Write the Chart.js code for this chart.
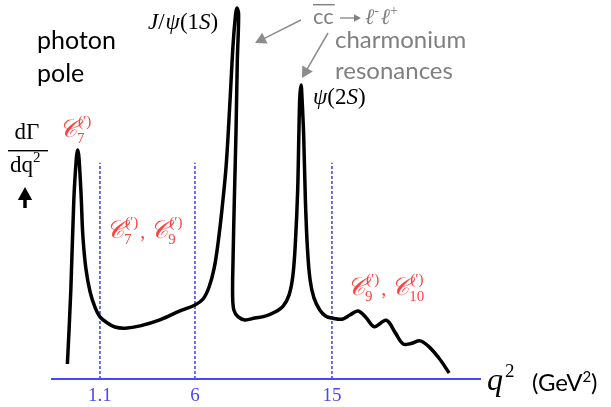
<!DOCTYPE html>
<html>
<head>
<meta charset="utf-8">
<script src="https://cdn.jsdelivr.net/npm/chart.js@4.4.1/dist/chart.umd.min.js"></script>
<style>
  html, body { margin: 0; padding: 0; background: #fff; }
  #wrap { width: 611px; height: 407px; }
</style>
</head>
<body>
<div id="wrap"><canvas id="spectrumChart" width="611" height="407"></canvas></div>
<script>
// schematic units: x runs 0..100 along the q^2 axis, y 0..100 for dGamma/dq^2
const curveX = [3.6, 4.4, 5.1, 5.7, 6.0, 6.3, 6.8, 7.2, 7.9, 8.9, 10.1, 11.2, 12.9, 14.7, 17.1, 20.6,
  25.2, 29.9, 33.4, 35.3, 36.7, 37.9, 38.8, 39.7, 40.7, 41.6, 42.3, 42.9, 43.2, 43.6, 43.3, 43.0,
  42.6, 42.3, 42.2, 42.5, 43.5, 45.1, 47.4, 49.8, 52.1, 54.0, 55.4, 56.3, 56.9, 57.4, 57.7, 57.9,
  58.2, 58.4, 58.8, 59.2, 59.7, 60.3, 61.2, 62.6, 64.0, 65.4, 67.8, 69.6, 71.5, 73.4, 75.3,
  78.1, 80.2, 82.0, 83.9, 86.0, 88.1, 90.4, 92.8];
const curveY = [4.0, 23.8, 47.9, 59.1, 61.2, 59.1, 49.2, 38.5, 29.7, 23.3, 19.0, 16.6, 15.0, 13.9, 13.6, 14.2,
  15.8, 18.2, 19.8, 21.4, 24.6, 29.7, 36.4, 45.2, 57.2, 74.6, 89.3, 97.6, 99.2, 97.6, 85.3, 66.6,
  47.9, 31.8, 22.5, 18.4, 16.6, 15.8, 16.3, 16.8, 17.9, 19.5, 22.5, 27.8, 37.2, 50.5, 66.6, 75.4,
  78.6, 75.4, 65.2, 47.9, 34.5, 26.5, 21.7, 18.4, 16.8, 16.3, 16.0, 17.1, 18.2, 16.4, 14.0,
  15.7, 12.4, 9.4, 9.5, 10.2, 8.6, 5.6, 1.6];

// q^2 bin boundaries (GeV^2) and where they sit on the schematic axis
const cutLabels = ['1.1', '6', '15'];
const cutX = [11.2, 33.4, 65.4];
const cutTop = 57.8;

const BLUE = 'rgb(72, 72, 245)';
const RED = 'rgb(255, 64, 64)';
const GRAY = 'rgb(128, 128, 128)';
const SERIF = '"Liberation Serif", "DejaVu Serif", serif';
const SANS = 'Lato, "Open Sans", sans-serif';

const datasets = [{
  data: curveX.map((x, i) => ({ x: x, y: curveY[i] })),
  borderColor: '#000',
  borderWidth: 3.5,
  pointRadius: 0,
  tension: 0.35,
  fill: false,
  clip: false,
}];
cutX.forEach((c) => {
  datasets.push({
    data: [{ x: c, y: 0 }, { x: c, y: cutTop }],
    borderColor: BLUE,
    borderWidth: 1.6,
    borderDash: [3, 2],
    pointRadius: 0,
    fill: false,
  });
});

// draw runs of text with font / vertical shift, returns end x
function runs(ctx, x, y, parts, color) {
  ctx.fillStyle = color;
  ctx.textBaseline = 'alphabetic';
  ctx.textAlign = 'left';
  parts.forEach((p) => {
    ctx.font = p[1];
    ctx.fillText(p[0], x, y + (p[2] || 0));
    x += ctx.measureText(p[0]).width + (p[3] || 0);
  });
  return x;
}

// C_sub^(') list, e.g. C7, C9
function coeffs(ctx, x, y, subs) {
  ctx.textAlign = 'left';
  ctx.textBaseline = 'alphabetic';
  subs.forEach((s, i) => {
    ctx.fillStyle = RED;
    ctx.font = 'italic 25px ' + SERIF;
    ctx.fillText('𝒞', x, y);
    x += ctx.measureText('𝒞').width;
    ctx.font = '15px ' + SERIF;
    ctx.fillText(s, x, y + 6);
    const subW = ctx.measureText(s).width;
    ctx.fillText('(′)', x + 1, y - 11);
    const supW = ctx.measureText('(′)').width + 1;
    x += Math.max(subW, supW);
    if (i < subs.length - 1) {
      ctx.font = '20px ' + SERIF;
      ctx.fillText(',', x + 2, y);
      x += 12;
    }
  });
}

function arrow(ctx, x1, y1, x2, y2, color, width, head) {
  const a = Math.atan2(y2 - y1, x2 - x1);
  ctx.strokeStyle = color;
  ctx.fillStyle = color;
  ctx.lineWidth = width;
  ctx.beginPath();
  ctx.moveTo(x1, y1);
  ctx.lineTo(x2 - Math.cos(a) * head * 0.8, y2 - Math.sin(a) * head * 0.8);
  ctx.stroke();
  ctx.beginPath();
  ctx.moveTo(x2, y2);
  ctx.lineTo(x2 - head * Math.cos(a) + head * 0.55 * Math.sin(a), y2 - head * Math.sin(a) - head * 0.55 * Math.cos(a));
  ctx.lineTo(x2 - head * Math.cos(a) - head * 0.55 * Math.sin(a), y2 - head * Math.sin(a) + head * 0.55 * Math.cos(a));
  ctx.closePath();
  ctx.fill();
}

const labelsPlugin = {
  id: 'labels',
  afterDraw(chart) {
    const ctx = chart.ctx;
    ctx.save();

    // photon pole
    runs(ctx, 37, 49, [['photon', '25px ' + SANS]], '#000');
    runs(ctx, 37, 82, [['pole', '25px ' + SANS]], '#000');

    // dGamma / dq^2 with arrow
    ctx.textAlign = 'center';
    ctx.fillStyle = '#000';
    ctx.font = '23px ' + SERIF;
    ctx.fillText('dΓ', 27, 139);
    ctx.fillRect(8, 150, 40, 1.4);
    runs(ctx, 10, 172, [['dq', '23px ' + SERIF], ['2', '15px ' + SERIF, -10]], '#000');
    arrow(ctx, 25, 208, 25, 187, '#000', 3.5, 13);

    // resonance names
    runs(ctx, 148, 29, [['J', 'italic 23px ' + SERIF], ['/', '23px ' + SERIF, 0, 1], ['ψ', 'italic 23px ' + SERIF],
      ['(1', '23px ' + SERIF], ['S', 'italic 23px ' + SERIF], [')', '23px ' + SERIF]], '#000');
    runs(ctx, 313, 104, [['ψ', 'italic 23px ' + SERIF], ['(2', '23px ' + SERIF], ['S', 'italic 23px ' + SERIF],
      [')', '23px ' + SERIF]], '#000');

    // cc -> l-l+ charmonium resonances
    const ccEnd = runs(ctx, 313, 24, [['cc', '22px ' + SANS]], GRAY);
    ctx.fillStyle = GRAY;
    ctx.fillRect(313, 4, ccEnd - 312, 1.4);
    arrow(ctx, 340, 18, 361, 18, GRAY, 1.3, 7);
    runs(ctx, 365, 24, [['ℓ', 'italic 22px ' + SERIF], ['-', '14px ' + SERIF, -9, 2],
      ['ℓ', 'italic 22px ' + SERIF], ['+', '14px ' + SERIF, -9]], GRAY);
    runs(ctx, 335, 48, [['charmonium', '24px ' + SANS]], GRAY);
    runs(ctx, 335, 79, [['resonances', '24px ' + SANS]], GRAY);
    arrow(ctx, 301, 20, 255, 43, 'rgb(140,140,140)', 1.5, 11);
    arrow(ctx, 328, 33, 302, 78, 'rgb(140,140,140)', 1.5, 11);

    // Wilson coefficients
    coeffs(ctx, 59, 137, ['7']);
    coeffs(ctx, 106, 238, ['7', '9']);
    coeffs(ctx, 347, 295, ['9', '10']);

    // axis title
    runs(ctx, 487, 390, [['q', 'italic 32px ' + SERIF, 0, 2], ['2', '19px ' + SERIF, -13]], '#000');
    runs(ctx, 532, 391, [['(GeV', '24px ' + SANS], ['2', '15px ' + SANS, -9], [')', '24px ' + SANS]], '#000');

    ctx.restore();
  },
};

new Chart(document.getElementById('spectrumChart').getContext('2d'), {
  type: 'line',
  data: { datasets: datasets },
  options: {
    responsive: false,
    animation: false,
    devicePixelRatio: 1,
    layout: { padding: { left: 52, right: 131, top: 5, bottom: 0 } },
    plugins: { legend: { display: false }, tooltip: { enabled: false } },
    scales: {
      x: {
        type: 'linear',
        min: 0,
        max: 100,
        grid: { display: false, drawTicks: false },
        border: { display: true, color: BLUE, width: 2 },
        ticks: {
          color: BLUE,
          font: { family: SERIF, size: 19 },
          padding: 6,
          autoSkip: false,
          maxRotation: 0,
          callback: (v, i) => cutLabels[i],
        },
        afterBuildTicks: (scale) => { scale.ticks = cutX.map((v) => ({ value: v })); },
        afterFit: (scale) => { scale.height = 28; },
      },
      y: { display: false, min: 0, max: 100 },
    },
  },
  plugins: [labelsPlugin],
});
</script>
</body>
</html>
